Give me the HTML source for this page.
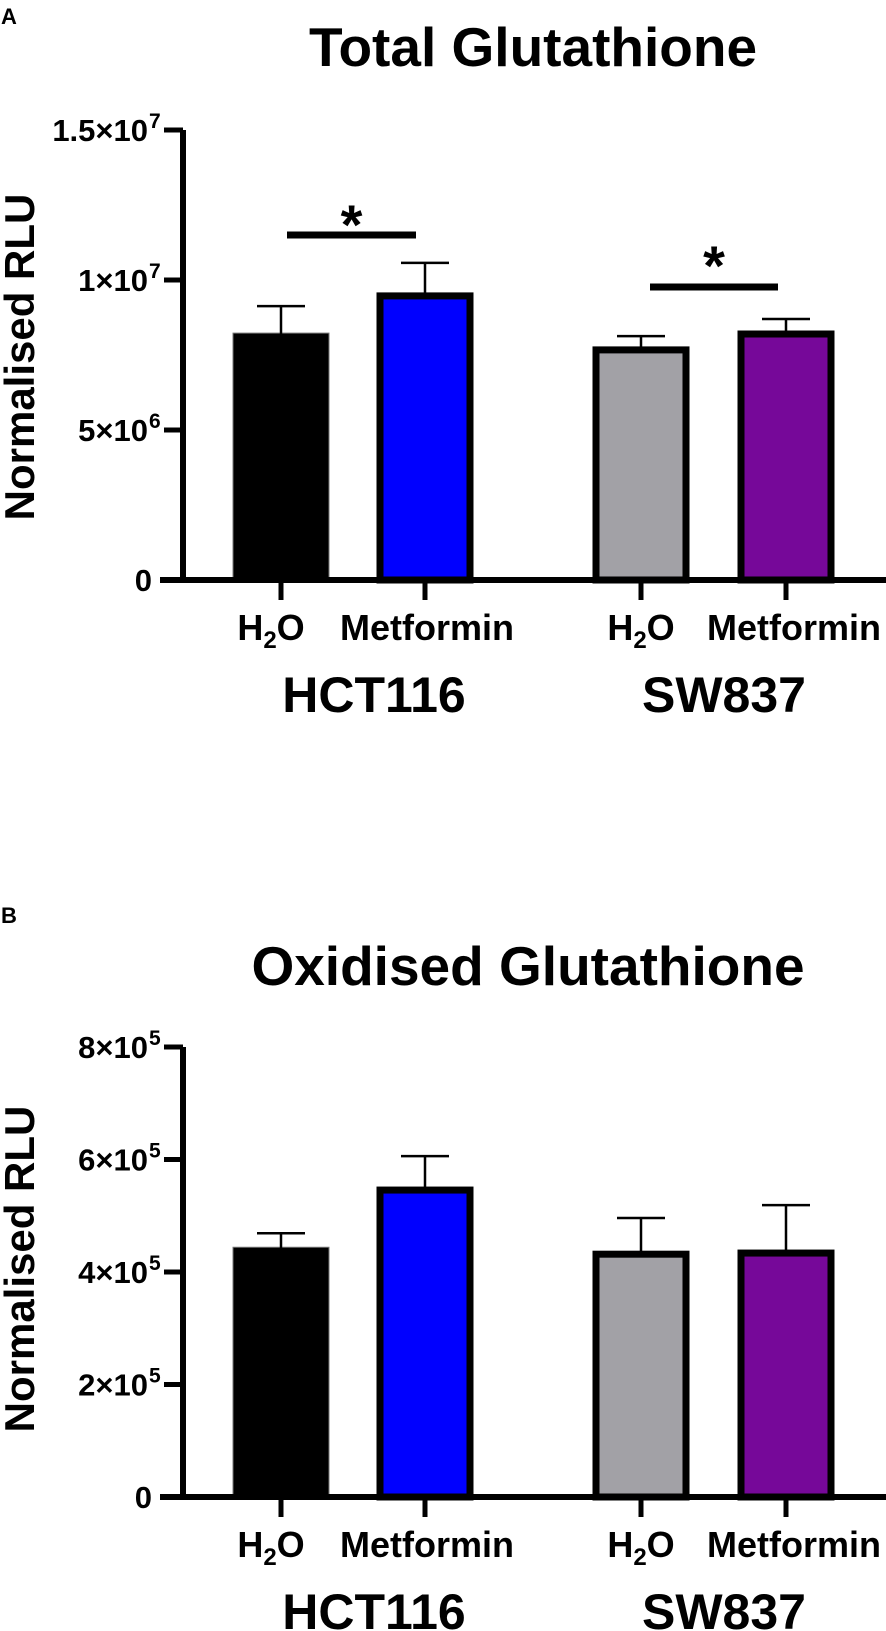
<!DOCTYPE html>
<html><head><meta charset="utf-8"><style>
html,body{margin:0;padding:0;background:#fff;}
svg{display:block;font-family:"Liberation Sans",Arial,sans-serif;font-weight:bold;}
</style></head><body>
<svg id="fig" width="886" height="1631" viewBox="0 0 886 1631" xmlns="http://www.w3.org/2000/svg">
<text x="1" y="24" font-size="22">A</text>
<text x="533" y="66" font-size="55" text-anchor="middle">Total Glutathione</text>
<text x="1" y="923" font-size="22">B</text>
<text x="528" y="985" font-size="55" text-anchor="middle">Oxidised Glutathione</text>
<g id="chartA"></g>
<g id="chartB"></g>
</svg>
<script>
const categories = ["H2O HCT116","Metformin HCT116","H2O SW837","Metformin SW837"];
const colors = ["#000000","#0000ff","#a2a1a6","#760899"];
const totalMeans = [8.23e6, 9.57e6, 7.77e6, 8.30e6];
const totalErr = [9.13e6, 1.057e7, 8.13e6, 8.70e6];
const totalTicks = [0, 5e6, 1e7, 1.5e7];
const totalTickLabels = [["0",""],["5×10","6"],["1×10","7"],["1.5×10","7"]];
const oxMeans = [4.44e5, 5.51e5, 4.37e5, 4.39e5];
const oxErr = [4.69e5, 6.06e5, 4.96e5, 5.19e5];
const oxTicks = [0, 2e5, 4e5, 6e5, 8e5];
const oxTickLabels = [["0",""],["2×10","5"],["4×10","5"],["6×10","5"],["8×10","5"]];

const NS="http://www.w3.org/2000/svg";
const barCenters=[281,425,641,786];
function mk(tag,attrs,parent){const e=document.createElementNS(NS,tag);for(const k in attrs)e.setAttribute(k,attrs[k]);parent.appendChild(e);return e;}

function drawChart(g,base,max,means,errs,ticks,tickLabels,sig){
  const top=base-450;
  const y=v=>base-v/max*450;
  const yt=mk('text',{x:0,y:0,'font-size':42,'text-anchor':'middle',transform:`translate(34,${(top+base)/2+ (base>1000?-3:2)}) rotate(-90)`},g);
  
  
  yt.textContent='Normalised RLU';
  means.forEach((m,i)=>{
    const cx=barCenters[i], w=96, yt2=y(m);
    const r=(i===0)?mk('rect',{x:cx-w/2,y:yt2,width:w,height:base-yt2,fill:colors[i],stroke:'#777','stroke-width':1},g)
      :mk('rect',{x:cx-w/2+3,y:yt2+3,width:w-6,height:base-yt2-3,fill:colors[i],stroke:'#000','stroke-width':7},g);
    
    
    const ey=y(errs[i]);
    const el=mk('path',{d:`M${cx},${yt2+2}V${ey}M${cx-24},${ey}H${cx+24}`,stroke:'#000','stroke-width':2.5,fill:'none'},g);
    
    
  });
  const ax=mk('path',{d:`M183,${top}V${base+3}M160,${base}H886`,stroke:'#000','stroke-width':6,fill:'none'},g);
  
  
  ticks.forEach((t,i)=>{
    const ty=y(t);
    const tk=mk('path',{d:`M164,${ty}H183`,stroke:'#000','stroke-width':5},g);
    
    
    const lbl=tickLabels[i];
    const tx=mk('text',{x:lbl[1]?148:152,y:ty+11,'font-size':31,'text-anchor':'end'},g);
    
    
    tx.textContent=lbl[0];
    if(lbl[1]){const s=mk('text',{x:149,y:ty-2,'font-size':21},g);
      
      
      s.textContent=lbl[1];}
  });
  barCenters.forEach(cx=>{const t=mk('path',{d:`M${cx},${base}V${base+20}`,stroke:'#000','stroke-width':5},g);
    
    });
  [271,641].forEach(cx=>{
    const t=mk('text',{x:cx,y:base+60,'font-size':36,'text-anchor':'middle'},g);
    
    
    t.innerHTML='H<tspan font-size="24" dy="8">2</tspan><tspan dy="-8">O</tspan>';
  });
  [427,794].forEach(cx=>{
    const t=mk('text',{x:cx,y:base+60,'font-size':36,'text-anchor':'middle'},g);
    
    
    t.textContent='Metformin';
  });
  [[374,'HCT116'],[724,'SW837']].forEach(([cx,s])=>{
    const t=mk('text',{x:cx,y:base+132,'font-size':50,'text-anchor':'middle'},g);
    
    
    t.textContent=s;
  });
  sig.forEach(s=>{
    const l=mk('path',{d:`M${s[0]},${s[2]}H${s[1]}`,stroke:'#000','stroke-width':7},g);
    
    
    const st=mk('text',{x:(s[0]+s[1])/2,y:s[3]+32,'font-size':56,'text-anchor':'middle'},g);
    
    
    st.textContent='*';
  });
}
drawChart(document.getElementById('chartA'),580,1.5e7,totalMeans,totalErr,totalTicks,totalTickLabels,[[287,416,235,212],[650,778,287,253]]);
drawChart(document.getElementById('chartB'),1497,8e5,oxMeans,oxErr,oxTicks,oxTickLabels,[]);
</script>
</body></html>
